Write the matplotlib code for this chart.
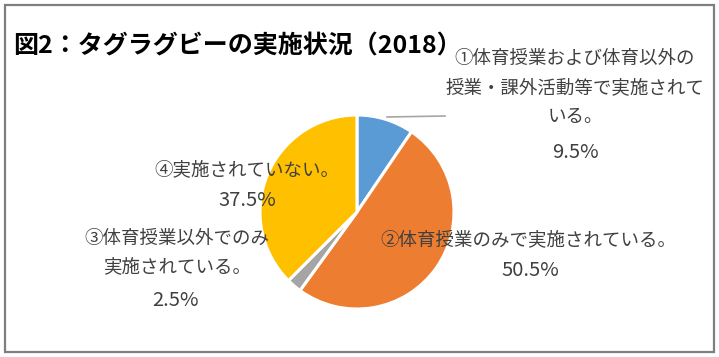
import matplotlib
matplotlib.use('Agg')
import matplotlib.pyplot as plt
from matplotlib.lines import Line2D
from matplotlib.patches import Rectangle

plt.rcParams['font.family'] = ['Noto Sans CJK JP', 'DejaVu Sans']

# data
title = '図2：タグラグビーの実施状況（2018）'
categories = ['①体育授業および体育以外の\n授業・課外活動等で実施されて\nいる。',
              '②体育授業のみで実施されている。',
              '③体育授業以外でのみ\n実施されている。',
              '④実施されていない。']
shares = [9.5, 50.5, 2.5, 37.5]
colors = ['#5B9BD5', '#ED7D31', '#A5A5A5', '#FFC000']

W, H = 719, 357
fig = plt.figure(figsize=(W / 100, H / 100), dpi=100)

def fx(px):
    return px / W

def fy(py):
    return 1 - py / H

# outer frame
fig.add_artist(Rectangle((fx(5), fy(352)), fx(709), 347 / H, transform=fig.transFigure,
                         fill=False, edgecolor='#7F7F7F', linewidth=1.6))

# pie, center (357, 212) radius 97 px
cx, cy, r = 357, 212, 97
ax = fig.add_axes([fx(cx - r), fy(cy + r), 2 * r / W, 2 * r / H])
ax.pie(shares, colors=colors, startangle=90, counterclock=False, radius=1,
       wedgeprops=dict(edgecolor='white', linewidth=2.2))
ax.set_xlim(-1, 1)
ax.set_ylim(-1, 1)
ax.set_aspect('auto')
ax.axis('off')

fig.text(fx(13), fy(46), title, fontsize=18, fontweight='bold', color='black',
         ha='left', va='center')

txt = dict(fontsize=13.3, color='#404040', ha='center', va='center', linespacing=1.8)
# label positions in pixels (centre of label block)
label_pos = [(575, 88), (528, 240), (177, 253), (247, 170)]
pct_pos = [(575, 152), (530, 271), (175, 300), (247, 200)]
for lab, s, (lx, ly), (px, py) in zip(categories, shares, label_pos, pct_pos):
    fig.text(fx(lx), fy(ly), lab, **txt)
    fig.text(fx(px), fy(py), f'{s}%', fontsize=14.5, color='#404040', ha='center', va='center')

# leader line for slice 1
fig.add_artist(Line2D([fx(387), fx(445)], [fy(117), fy(116)], transform=fig.transFigure,
                      color='#A6A6A6', linewidth=1.2))

fig.savefig('out.png', dpi=100)
